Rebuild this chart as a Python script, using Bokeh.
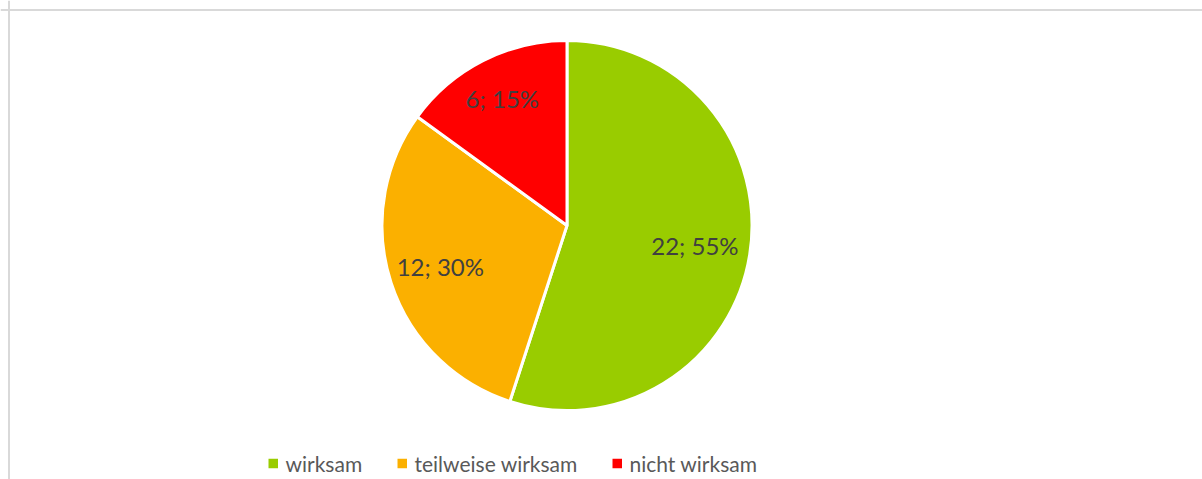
import math
from bokeh.plotting import figure
from bokeh.models import Range1d, Span, ColumnDataSource
from bokeh.core.properties import value
from bokeh.embed import file_html
from bokeh.resources import INLINE

# ---- data ----
categories = ["wirksam", "teilweise wirksam", "nicht wirksam"]
counts = [22, 12, 6]
percents = [55, 30, 15]
colors = ["#99CC00", "#FBB000", "#FF0000"]

# ---- layout (page pixels) ----
W, H = 1202, 479
OX, OY = 0, 0
def px(x):                    # page x -> data x
    return x - OX
def py(y):                    # page y -> data y
    return (OY + H) - y

cx, cy, R = 566.5, 225.0, 185.0
label_frac = [0.70, 0.72, 0.77]
legend_x = [268.0, 397.0, 612.0]
legend_y = 463.0
FONT = "Lato"

p = figure(width=W, height=H, output_backend="svg", toolbar_location=None,
           x_range=Range1d(0, W), y_range=Range1d(0, H), min_border=0)
p.axis.visible = False
p.grid.visible = False
p.outline_line_color = None
p.background_fill_color = "white"
p.border_fill_color = "white"

# wedges
total = sum(counts)
starts, ends, mids = [], [], []
acc = 0.0
for c in counts:
    f0 = acc / total
    acc += c
    f1 = acc / total
    starts.append(math.pi / 2 - f0 * 2 * math.pi)
    ends.append(math.pi / 2 - f1 * 2 * math.pi)
    mids.append(math.pi / 2 - (f0 + f1) / 2 * 2 * math.pi)

src = ColumnDataSource(dict(x=[px(cx)] * len(counts), y=[py(cy)] * len(counts),
                            start=starts, end=ends, color=colors, cat=categories))
p.wedge(x="x", y="y", radius=R, radius_units="screen", start_angle="start", end_angle="end",
        direction="clock", fill_color="color", line_color="white", line_width=3, source=src)

# data labels
lx = [px(cx) + fr * R * math.cos(a) for fr, a in zip(label_frac, mids)]
ly = [py(cy) + fr * R * math.sin(a) for fr, a in zip(label_frac, mids)]
ltxt = [f"{c}; {q}%" for c, q in zip(counts, percents)]
p.text(x=lx, y=ly, text=ltxt, text_align="center", text_baseline="middle",
       text_font=value(FONT), text_font_size="24px", text_color="#404040")

# legend (manual)
sq = 9.5
p.rect(x=[px(x + sq / 2) for x in legend_x], y=[py(legend_y)] * 3, width=sq, height=sq,
       width_units="screen", height_units="screen", fill_color=colors, line_color=None)
p.text(x=[px(x + 17) for x in legend_x], y=[py(legend_y)] * 3, text=categories,
       text_align="left", text_baseline="middle", text_font=value(FONT),
       text_font_size="21px", text_color="#595959")

# chart-area border (top and left edges visible)
p.add_layout(Span(location=py(9.5), dimension="width", line_color="#D9D9D9", line_width=2))
p.add_layout(Span(location=px(8.5), dimension="height", line_color="#D9D9D9", line_width=2))

open("out.html", "w").write(file_html(p, INLINE))
